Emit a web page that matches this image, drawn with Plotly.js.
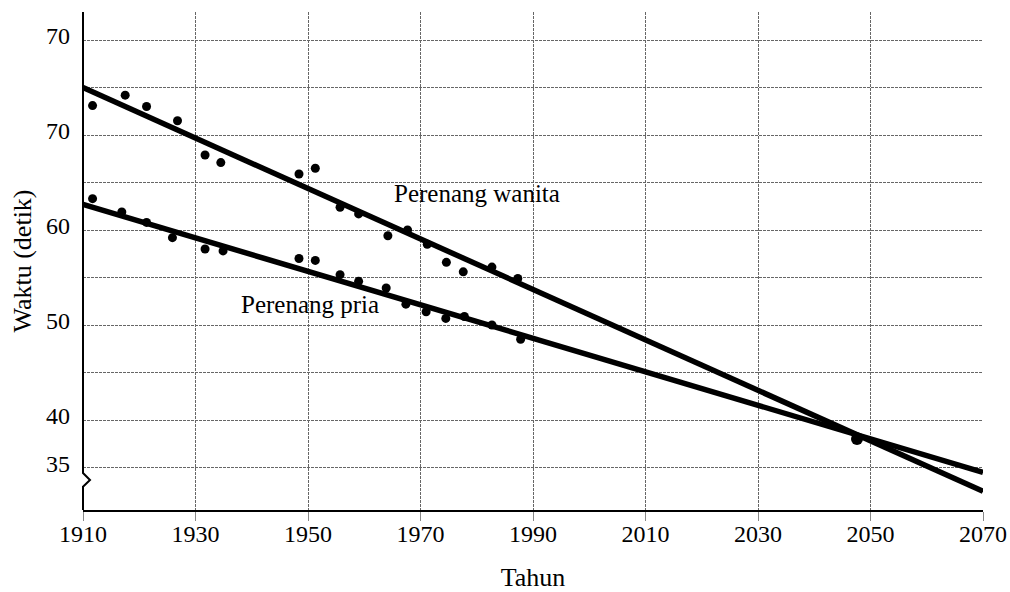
<!DOCTYPE html>
<html>
<head>
<meta charset="utf-8">
<script src="https://cdn.plot.ly/plotly-3.0.1.min.js"></script>
<style>html,body{margin:0;padding:0;background:#fff;}#chart{width:1010px;height:592px;}</style>
</head>
<body>
<div id="chart"></div>
<script>
// Women's record times
const womenYears = [1911.7, 1917.5, 1921.3, 1926.8, 1931.7, 1934.5, 1948.4, 1951.3, 1955.7, 1959.0, 1964.2, 1967.7, 1971.2, 1974.6, 1977.6, 1982.7, 1987.3];
const womenTimes = [73.1, 74.2, 73.0, 71.5, 67.9, 67.1, 65.9, 66.5, 62.4, 61.7, 59.4, 60.0, 58.5, 56.6, 55.6, 56.1, 54.9];
// Men's record times
const menYears = [1911.7, 1916.9, 1921.3, 1925.9, 1931.7, 1934.9, 1948.4, 1951.3, 1955.7, 1959.0, 1963.9, 1967.4, 1971.0, 1974.5, 1977.8, 1982.7, 1987.8];
const menTimes = [63.3, 61.9, 60.8, 59.2, 58.0, 57.8, 57.0, 56.8, 55.3, 54.6, 53.9, 52.2, 51.4, 50.7, 50.9, 50.0, 48.5];
// Trend lines
const fitYears = [1910, 2070];
const womenFit = [75.0, 32.5];
const menFit = [62.7, 34.5];
// Intersection point
const crossYear = [2047.6];
const crossTime = [38.0];
// Axis ticks
const xTicks = [1910, 1930, 1950, 1970, 1990, 2010, 2030, 2050, 2070];
const yTickVals = [35, 40, 45, 50, 55, 60, 65, 70, 75, 80];
const yTickText = ["35", "40", "", "50", "", "60", "", "70", "", "70"];
const labelWomen = "Perenang wanita";
const labelMen = "Perenang pria";

const FONT = "Liberation Serif, Times New Roman, serif";

const traces = [
  {x: fitYears, y: womenFit, mode: "lines", line: {color: "#000", width: 5.5}, hoverinfo: "skip"},
  {x: fitYears, y: menFit, mode: "lines", line: {color: "#000", width: 5.5}, hoverinfo: "skip"},
  {x: womenYears, y: womenTimes, mode: "markers", marker: {color: "#000", size: 9}},
  {x: menYears, y: menTimes, mode: "markers", marker: {color: "#000", size: 9}},
  {x: crossYear, y: crossTime, mode: "markers", marker: {color: "#000", size: 12}}
];

const layout = {
  width: 1010, height: 592,
  margin: {l: 83, r: 27, t: 12, b: 82},
  paper_bgcolor: "#fff", plot_bgcolor: "#fff",
  showlegend: false,
  font: {family: FONT, size: 24, color: "#000"},
  xaxis: {
    range: [1910, 2070],
    tickmode: "array", tickvals: xTicks, ticktext: xTicks.map(String),
    showgrid: true, gridcolor: "#666", gridwidth: 1, griddash: "3px,1px",
    zeroline: false,
    showline: true, linecolor: "#000", linewidth: 2,
    ticks: "outside", ticklen: 9, tickcolor: "#888", tickwidth: 1,
    ticklabelstandoff: -8,
    tickfont: {family: FONT, size: 24, color: "#000"},
    title: {text: "Tahun", font: {family: FONT, size: 26, color: "#000"}, standoff: 23}
  },
  yaxis: {
    range: [30.53, 82.95],
    tickmode: "array", tickvals: yTickVals, ticktext: yTickText,
    showgrid: true, gridcolor: "#666", gridwidth: 1, griddash: "3px,1px",
    zeroline: false,
    showline: false,
    ticks: "",
    ticklabelstandoff: 12,
    ticklabelshift: -4,
    tickfont: {family: FONT, size: 24, color: "#000"},
    title: {text: "Waktu (detik)", font: {family: FONT, size: 26, color: "#000"}, standoff: 6}
  },
  shapes: [
    {type: "path", xref: "paper", yref: "paper",
     path: "M 0,1 L 0,0.0743 L 0.00778,0.0602 L 0,0.0468 L 0,0",
     line: {color: "#000", width: 2}, layer: "above"}
  ],
  annotations: [
    {x: 1964.9, y: 63.8, xref: "x", yref: "y", text: labelWomen, showarrow: false, xanchor: "left", yanchor: "middle",
     font: {family: FONT, size: 25, color: "#000"}},
    {x: 1937.8, y: 52.2, xref: "x", yref: "y", text: labelMen, showarrow: false, xanchor: "left", yanchor: "middle",
     font: {family: FONT, size: 25, color: "#000"}}
  ]
};

Plotly.newPlot("chart", traces, layout, {staticPlot: true, displayModeBar: false});
</script>
</body>
</html>
